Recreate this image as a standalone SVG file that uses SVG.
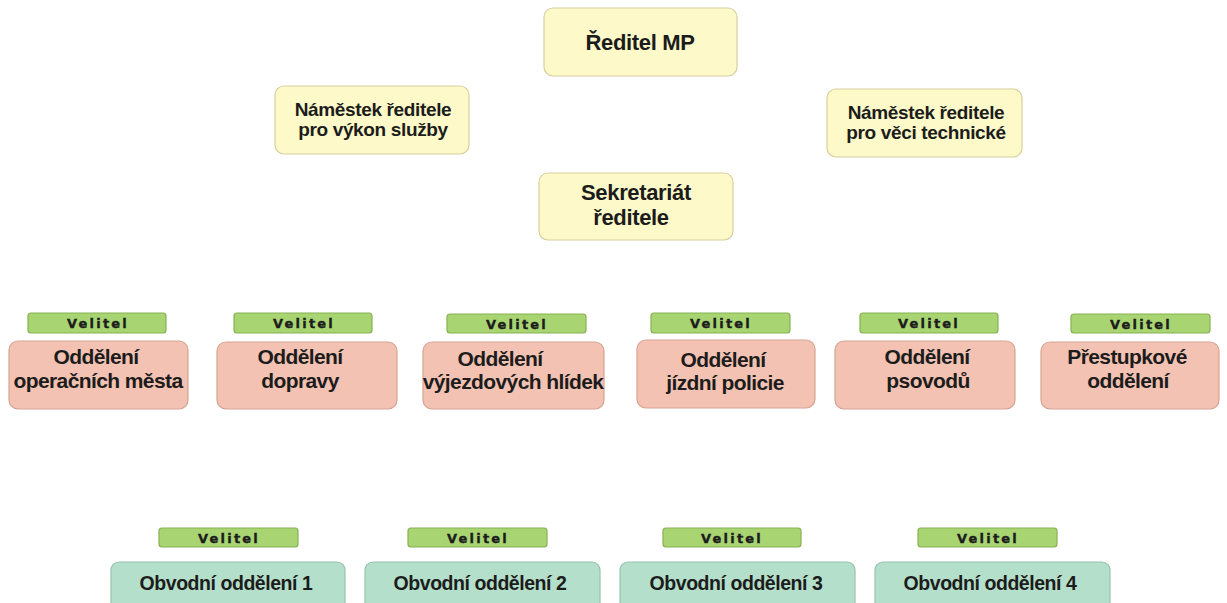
<svg xmlns="http://www.w3.org/2000/svg" width="1227" height="603" viewBox="0 0 1227 603">
<style>
.y{fill:#fdf9c8;stroke:#d8cf9e;stroke-width:1.2}
.p{fill:#f4c2b2;stroke:#d6a393;stroke-width:1.2}
.g{fill:#a8d472;stroke:#86b152;stroke-width:1.2}
.t{fill:#b4dfca;stroke:#98c3ae;stroke-width:1.2}
text{font-family:"Liberation Sans",Arial,sans-serif;font-weight:bold;fill:#1c1c1c;text-anchor:middle}
.f20{font-size:22px;letter-spacing:-0.35px}
.f18{font-size:19px;letter-spacing:-0.35px}
.f19{font-size:21px;letter-spacing:-0.6px}
.fo{font-size:19.5px;letter-spacing:-0.45px}
.v{font-family:"DejaVu Sans",sans-serif;font-size:13px;letter-spacing:2.2px;stroke:#1c1c1c;stroke-width:0.35}
</style>
<rect width="1227" height="603" fill="#ffffff"/>
<g id="connectors"></g>
<g id="reditel"><rect class="y" x="544" y="8" width="193" height="68" rx="9"/><text class="f20" x="640" y="50">Ředitel MP</text></g>
<g id="namestek-vykon"><rect class="y" x="275" y="86" width="194" height="68" rx="9"/><text class="f18" x="373" y="116">Náměstek ředitele</text><text class="f18" x="373" y="136">pro výkon služby</text></g>
<g id="namestek-tech"><rect class="y" x="827" y="89" width="195" height="68" rx="9"/><text class="f18" x="926" y="119">Náměstek ředitele</text><text class="f18" x="926" y="139">pro věci technické</text></g>
<g id="sekretariat"><rect class="y" x="539" y="173" width="194" height="67" rx="9"/><text class="f20" x="636" y="200">Sekretariát</text><text class="f20" x="631" y="225">ředitele</text></g>

<g id="odd-operacni"><rect class="g" x="28" y="313" width="138" height="20" rx="3"/><text class="v" x="98" y="328">Velitel</text><rect class="p" x="9" y="341" width="179" height="68" rx="9"/><text class="f19" x="96" y="364">Oddělení</text><text class="f19" x="98" y="388">operačních města</text></g>
<g id="odd-dopravy"><rect class="g" x="234" y="313" width="138" height="20" rx="3"/><text class="v" x="304" y="328">Velitel</text><rect class="p" x="217" y="342" width="180" height="67" rx="9"/><text class="f19" x="300" y="364">Oddělení</text><text class="f19" x="300" y="388">dopravy</text></g>
<g id="odd-vyjezdove"><rect class="g" x="447" y="314" width="139" height="19" rx="3"/><text class="v" x="517" y="329">Velitel</text><rect class="p" x="423" y="342" width="181" height="67" rx="9"/><text class="f19" x="500" y="366">Oddělení</text><text class="f19" x="513" y="389">výjezdových hlídek</text></g>
<g id="odd-jizdni"><rect class="g" x="651" y="313" width="139" height="20" rx="3"/><text class="v" x="721" y="328">Velitel</text><rect class="p" x="637" y="340" width="178" height="68" rx="9"/><text class="f19" x="723" y="367">Oddělení</text><text class="f19" x="725" y="390">jízdní policie</text></g>
<g id="odd-psovodu"><rect class="g" x="860" y="313" width="138" height="20" rx="3"/><text class="v" x="929" y="328">Velitel</text><rect class="p" x="835" y="341" width="180" height="68" rx="9"/><text class="f19" x="927" y="364">Oddělení</text><text class="f19" x="928" y="388">psovodů</text></g>
<g id="odd-prestupkove"><rect class="g" x="1071" y="314" width="139" height="19" rx="3"/><text class="v" x="1141" y="329">Velitel</text><rect class="p" x="1041" y="342" width="178" height="67" rx="9"/><text class="f19" x="1127" y="364">Přestupkové</text><text class="f19" x="1128" y="388">oddělení</text></g>

<g id="obvod-1"><rect class="g" x="159" y="528" width="139" height="19" rx="3"/><text class="v" x="229" y="543">Velitel</text><rect class="t" x="111" y="562" width="234" height="50" rx="8"/><text class="fo" x="226" y="590">Obvodní oddělení 1</text></g>
<g id="obvod-2"><rect class="g" x="408" y="528" width="139" height="19" rx="3"/><text class="v" x="478" y="543">Velitel</text><rect class="t" x="365" y="562" width="235" height="50" rx="8"/><text class="fo" x="480" y="590">Obvodní oddělení 2</text></g>
<g id="obvod-3"><rect class="g" x="663" y="528" width="138" height="19" rx="3"/><text class="v" x="732" y="543">Velitel</text><rect class="t" x="620" y="562" width="235" height="50" rx="8"/><text class="fo" x="736" y="590">Obvodní oddělení 3</text></g>
<g id="obvod-4"><rect class="g" x="918" y="528" width="139" height="19" rx="3"/><text class="v" x="988" y="543">Velitel</text><rect class="t" x="875" y="562" width="235" height="50" rx="8"/><text class="fo" x="990" y="590">Obvodní oddělení 4</text></g>
</svg>
